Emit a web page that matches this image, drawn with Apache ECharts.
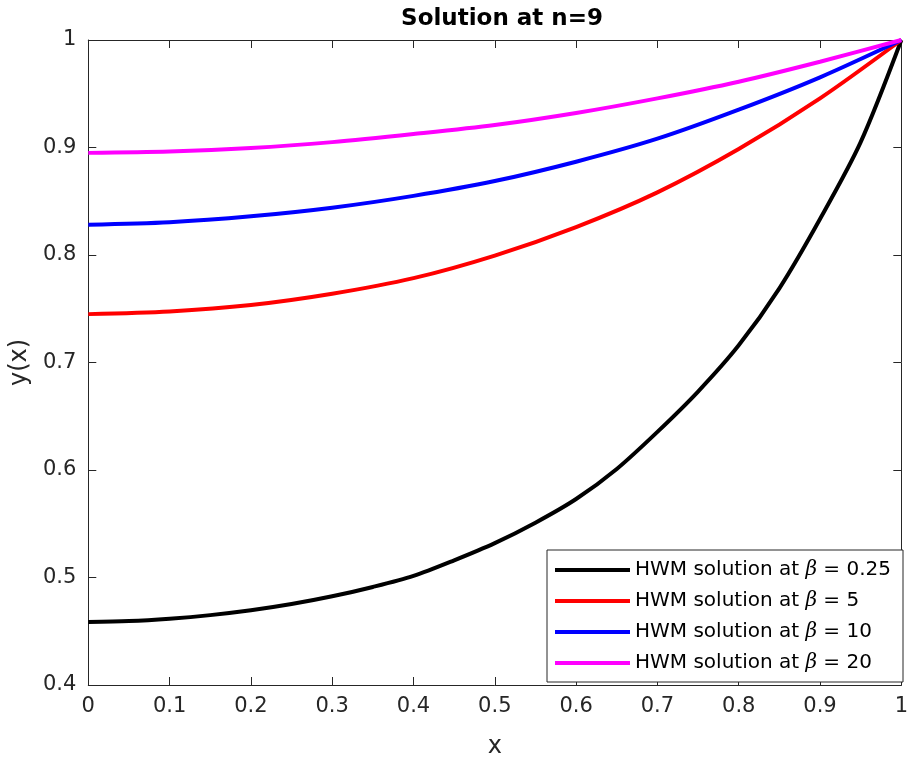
<!DOCTYPE html>
<html>
<head>
<meta charset="utf-8">
<script src="https://cdn.jsdelivr.net/npm/echarts@6/dist/echarts.min.js"></script>
<style>html,body{margin:0;padding:0;background:#fff;}#c{width:911px;height:764px;}</style>
</head>
<body>
<div id="c"></div>
<script>
var xs = [0, 0.1, 0.2, 0.3, 0.4, 0.5, 0.6, 0.7, 0.8, 0.9, 1.0];
var xsBlack = [0, 0.05, 0.1, 0.15, 0.2, 0.25, 0.3, 0.35, 0.4, 0.45, 0.5, 0.55, 0.6, 0.65, 0.7, 0.75, 0.8, 0.85, 0.9, 0.95, 1.0];
var yBeta025 = [0.4587, 0.4595, 0.4617, 0.4650, 0.4695, 0.4753, 0.4825, 0.4912, 0.5015, 0.5160, 0.5320, 0.5510, 0.5730, 0.6010, 0.6355, 0.6730, 0.7160, 0.7690, 0.8335, 0.9050, 1.0];
var yBeta5 = [0.7450, 0.7475, 0.7535, 0.7640, 0.7785, 0.7995, 0.8260, 0.8583, 0.8986, 0.9457, 1.0];
var yBeta10 = [0.8282, 0.8305, 0.8360, 0.8440, 0.8550, 0.8688, 0.8868, 0.9082, 0.9352, 0.9653, 1.0];
var yBeta20 = [0.8950, 0.8962, 0.8995, 0.9050, 0.9125, 0.9209, 0.9321, 0.9457, 0.9612, 0.9798, 1.0];
var seriesNames = ['HWM solution at β = 0.25', 'HWM solution at β = 5', 'HWM solution at β = 10', 'HWM solution at β = 20'];
var xTicks = [0, 0.1, 0.2, 0.3, 0.4, 0.5, 0.6, 0.7, 0.8, 0.9, 1];
var yTicks = [0.4, 0.5, 0.6, 0.7, 0.8, 0.9, 1];

function pairs(x, y) { return x.map(function (v, i) { return [v, y[i]]; }); }

var axisCol = '#262626';
var font = 'DejaVu Sans, Liberation Sans, Arial, sans-serif';
function fmt(v) { return String(Math.round(v * 10) / 10); }
function mkX(pos, show) {
  return {
    type: 'value', position: pos, min: 0, max: 1, interval: 0.1,
    axisLine: { show: true, onZero: false, lineStyle: { color: axisCol, width: 1 } },
    axisTick: { show: true, inside: true, length: 8, lineStyle: { color: axisCol } },
    splitLine: { show: false },
    axisLabel: { show: show, color: axisCol, fontFamily: font, fontSize: 21, margin: 11, formatter: fmt },
    name: show ? 'x' : '', nameLocation: 'middle', nameGap: 50,
    nameTextStyle: { color: axisCol, fontFamily: font, fontSize: 24 }
  };
}
function mkY(pos, show) {
  return {
    type: 'value', position: pos, min: 0.4, max: 1, interval: 0.1,
    axisLine: { show: true, onZero: false, lineStyle: { color: axisCol, width: 1 } },
    axisTick: { show: true, inside: true, length: 8, lineStyle: { color: axisCol } },
    splitLine: { show: false },
    axisLabel: { show: show, color: axisCol, fontFamily: font, fontSize: 21, margin: 12, formatter: fmt },
    name: show ? 'y(x)' : '', nameLocation: 'middle', nameGap: 55,
    nameTextStyle: { color: axisCol, fontFamily: font, fontSize: 24 }
  };
}

var colors = ['#000000', '#ff0000', '#0000ff', '#ff00ff'];
var datas = [pairs(xsBlack, yBeta025), pairs(xs, yBeta5), pairs(xs, yBeta10), pairs(xs, yBeta20)];
var series = datas.map(function (d, i) {
  return {
    name: seriesNames[i], type: 'line', data: d, smooth: 0.3, symbol: 'none',
    lineStyle: { color: colors[i], width: 4 }, itemStyle: { color: colors[i] },
    xAxisIndex: 0, yAxisIndex: 0, z: 2 + i
  };
});

var chart = echarts.init(document.getElementById('c'));
chart.setOption({
  animation: false,
  backgroundColor: '#fff',
  title: {
    text: 'Solution at n=9', left: 497, top: 3, textAlign: 'center',
    textStyle: { fontFamily: font, fontSize: 23, fontWeight: 'bold', color: '#000' }
  },
  grid: { left: 88, top: 40, right: 7, bottom: 79, containLabel: false },
  xAxis: [mkX('bottom', true), mkX('top', false)],
  yAxis: [mkY('left', true), mkY('right', false)],
  legend: {
    orient: 'vertical', left: 547, top: 550,
    padding: [9, 12, 8, 8], itemGap: 9, itemWidth: 75, itemHeight: 4,
    icon: 'rect', borderColor: '#262626', borderWidth: 1, backgroundColor: '#fff',
    data: seriesNames,
    formatter: function (n) { return n.replace('β', '{b|β}'); },
    textStyle: {
      fontFamily: font, fontSize: 20, color: '#000', lineHeight: 22,
      rich: { b: { fontFamily: 'DejaVu Serif, Liberation Serif, serif', fontStyle: 'italic', fontSize: 20, color: '#000', lineHeight: 22 } }
    }
  },
  series: series
});
</script>
</body>
</html>
